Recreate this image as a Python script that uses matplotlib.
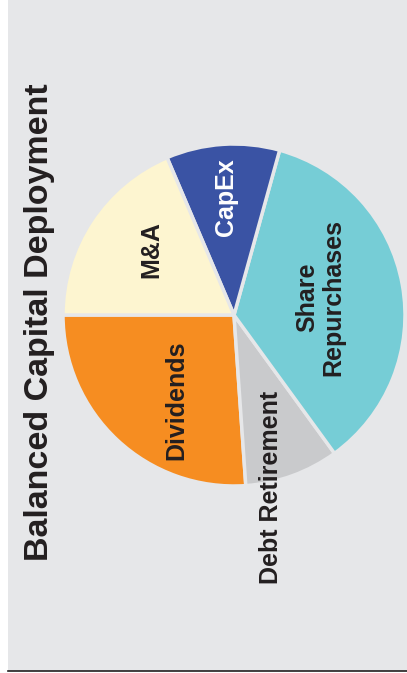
import matplotlib.pyplot as plt
from matplotlib.patches import Rectangle

plt.rcParams['font.family'] = ['Liberation Sans', 'DejaVu Sans']

# slices, counter-clockwise from the 9 o'clock position
labels = ['Dividends', 'Debt Retirement', 'Share\nRepurchases', 'CapEx', 'M&A']
shares = [26.1, 8.9, 35.7, 10.7, 18.6]
colors = ['#F68D21', '#C9CACC', '#76CDD6', '#3A53A4', '#FDF5D0']
text_colors = ['#231F20', '#231F20', '#231F20', 'white', '#231F20']
# label spots in pixel coords (x, y from top)
label_pos = [(176, 400), (271, 487), (320, 297), (226, 197), (151, 250)]

bg = '#E6E7E9'
W, H = 407, 673

fig = plt.figure(figsize=(W / 100, H / 100), dpi=100)
fig.patch.set_facecolor('white')
ax = fig.add_axes([0, 0, 1, 1])

# gray panel + bottom rule
ax.add_patch(Rectangle((8, 2), W - 8, H - 2, facecolor=bg, edgecolor='none', zorder=0))
ax.plot([8, W], [2, 2], color='#231F20', lw=1.2, zorder=1)

ax.pie(shares, colors=colors, startangle=180, counterclock=True,
       center=(234, H - 315), radius=171, frame=True,
       wedgeprops=dict(edgecolor=bg, linewidth=2.5))
ax.set_xlim(0, W)
ax.set_ylim(0, H)
ax.set_aspect('equal')
ax.axis('off')

for lab, (x, y), c in zip(labels, label_pos, text_colors):
    ax.text(x, H - y, lab, rotation=90, ha='center', va='center',
            fontsize=18, fontweight='bold', color=c, linespacing=1.1)

ax.text(40, H - 322, 'Balanced Capital Deployment', rotation=90,
        ha='center', va='center', fontsize=24.5, fontweight='bold', color='#231F20')

fig.savefig('out.png', dpi=100, facecolor=fig.get_facecolor())
